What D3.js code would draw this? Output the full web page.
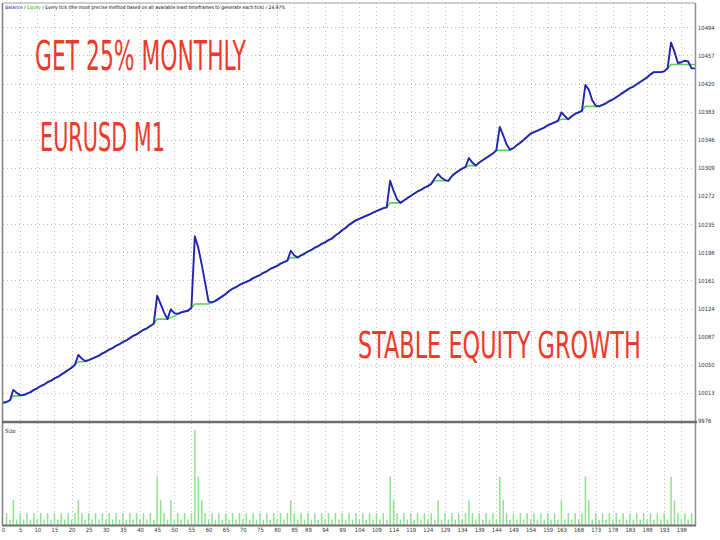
<!DOCTYPE html>
<html><head><meta charset="utf-8">
<script src="https://cdn.jsdelivr.net/npm/d3@7"></script>
<style>
html,body{margin:0;padding:0;background:#fff;}
svg{display:block;}
</style></head>
<body>
<svg id="c" width="720" height="540"></svg>
<script>
// ---- data ----
const balance = [
10000,10001,10003,10009,10009,10009,10010,10012,10014,10017,
10019,10022,10024,10027,10029,10032,10034,10037,10040,10043,
10046,10050,10054,10054,10054,10056,10058,10060,10062,10065,
10067,10070,10072,10075,10077,10080,10082,10085,10088,10090,
10093,10096,10098,10101,10104,10110,10110,10110,10110,10112,
10114,10117,10119,10120,10121,10125,10130,10130,10130,10130,
10130,10132,10134,10137,10140,10143,10147,10150,10152,10155,
10157,10159,10161,10164,10166,10168,10171,10173,10176,10178,
10180,10183,10185,10187,10191,10191,10191,10194,10196,10199,
10201,10204,10206,10209,10211,10214,10216,10220,10223,10227,
10230,10234,10237,10240,10242,10244,10246,10248,10250,10252,
10254,10256,10257,10263,10263,10263,10263,10266,10269,10272,
10275,10278,10280,10283,10285,10288,10292,10292,10292,10292,
10292,10298,10302,10305,10308,10310,10312,10312,10312,10316,
10319,10322,10325,10328,10332,10332,10332,10332,10332,10335,
10339,10342,10346,10350,10354,10356,10358,10360,10362,10365,
10367,10369,10371,10373,10373,10373,10377,10380,10382,10384,
10390,10390,10390,10390,10390,10392,10394,10397,10399,10402,
10405,10408,10411,10414,10416,10419,10422,10425,10428,10432,
10435,10435,10435,10436,10440,10445,10445,10445,10445,10445,
10445,10445,10445
];
// equity values where positions were open (index, equity)
const equityOpen = [
[3,10017],[4,10013],[5,10010],
[22,10063],[23,10058],[24,10055],
[45,10141],[46,10130],[47,10119],
[49,10123],[50,10118],
[56,10219],[57,10204],[58,10182],[59,10158],[60,10133],
[84,10200],[85,10194],
[113,10292],[114,10279],[115,10268],
[126,10295],[127,10301],[128,10296],[129,10293],
[136,10322],[137,10316],
[145,10363],[146,10352],[147,10340],[148,10333],
[163,10382],[164,10377],
[170,10418],[171,10412],[172,10398],[173,10391],
[195,10474],[196,10462],[197,10447],[198,10448],[199,10450],[200,10449],[201,10440],[202,10440]
];
const sizes = [
0,2.2,1,4.6,1,2.2,1,2.2,1,2.2,
1,2.2,1,2.2,1,2.2,1,2.2,1,2.2,
1,2.2,4.6,2.2,1,2.2,1,2.2,1,2.2,
1,2.2,1,2.2,1,2.2,1,2.2,1,2.2,
1,2.2,1,2.2,1,9,4.6,2.2,1,4.6,
1,2.2,1,2.2,1,2.2,17.7,9,4.6,2.2,
1,2.2,1,2.2,1,2.2,1,2.2,1,2.2,
1,2.2,1,2.2,1,2.2,1,2.2,1,2.2,
1,2.2,1,2.2,4.6,2.2,1,2.2,1,2.2,
1,2.2,1,2.2,1,2.2,1,2.2,1,2.2,
1,2.2,1,2.2,1,2.2,1,2.2,1,2.2,
1,2.2,1,9,4.6,2.2,1,2.2,1,2.2,
1,2.2,1,2.2,1,2.2,1,4.6,1,2.2,
1,2.2,1,2.2,1,2.2,4.6,2.2,1,2.2,
1,2.2,1,2.2,1,9,4.6,2.2,1,2.2,
1,2.2,1,2.2,1,2.2,1,2.2,1,2.2,
1,2.2,1,4.6,1,2.2,1,2.2,1,2.2,
9,4.6,1,2.2,1,2.2,1,2.2,1,2.2,
1,2.2,1,2.2,1,2.2,1,2.2,1,2.2,
1,2.2,1,2.2,1,9,4.6,2.2,1,2.2,
1,2.2,0
];
const yTicks = [9976,10013,10050,10087,10124,10161,10198,10235,10272,10309,10346,10383,10420,10457,10494];
const xTicks = [0,5,10,15,20,25,30,35,40,45,50,55,60,65,70,75,80,85,89,94,99,104,109,114,119,124,129,134,139,144,149,154,159,163,168,173,178,183,188,193,198];
const headerParts = [["Balance","#1010c8"],[" / ","#000"],["Equity","#10b010"],[" / Every tick (the most precise method based on all available least timeframes to generate each tick) / 24.97%","#000"]];
// text, left x, baseline y, target width, cap height
const bigTexts = [["GET 25% MONTHLY",35,70,211,30],["EURUSD M1",40,151,125,29],["STABLE EQUITY GROWTH",358,358,283,27]];

// ---- build ----
const eqMap = new Map(equityOpen);
const equity = balance.map((b,i)=> eqMap.has(i) ? eqMap.get(i) : b);

const svg = d3.select("#c");
const L=3, R=695, T=3, SEP=422, B=525;
const x = d3.scaleLinear().domain([0,202]).range([L,R]);
const y = d3.scaleLinear().domain([9976,10522]).range([421,6]);
const ys = d3.scaleLinear().domain([0,19]).range([B,SEP+1]);

const grid = svg.append("g").attr("stroke","#bdbdbd").attr("stroke-width",1).attr("stroke-dasharray","1,3");
grid.selectAll("line.h").data(yTicks.slice(1)).join("line")
  .attr("x1",L).attr("x2",R).attr("y1",d=>Math.round(y(d))+0.5).attr("y2",d=>Math.round(y(d))+0.5);
grid.selectAll("line.v").data(xTicks.slice(1)).join("line")
  .attr("y1",T).attr("y2",B).attr("x1",d=>Math.round(x(d))+0.5).attr("x2",d=>Math.round(x(d))+0.5);

// size bars
svg.append("g").selectAll("rect").data(sizes.map((v,i)=>[i,v]).filter(d=>d[1]>0)).join("rect")
  .attr("x",d=>x(d[0])-0.7).attr("width",1.5)
  .attr("y",d=>ys(d[1])).attr("height",d=>B-ys(d[1]))
  .attr("fill","#8fe38f");

// lines
const line = d3.line().x((d,i)=>x(i)).y(d=>y(d));
svg.append("path").attr("d",line(balance)).attr("fill","none").attr("stroke","#55d455").attr("stroke-width",1.6);
svg.append("path").attr("d",line(equity)).attr("fill","none").attr("stroke","#2323b4").attr("stroke-width",1.9).attr("stroke-linejoin","round");

// frame
svg.append("line").attr("x1",L).attr("x2",R).attr("y1",T).attr("y2",T).attr("stroke","#a0a0a0").attr("stroke-width",1);
svg.append("line").attr("x1",L-0.5).attr("x2",L-0.5).attr("y1",T).attr("y2",B).attr("stroke","#808080").attr("stroke-width",1.5);
svg.append("line").attr("x1",R+0.5).attr("x2",R+0.5).attr("y1",T).attr("y2",B+1).attr("stroke","#909090").attr("stroke-width",1.5);
svg.append("line").attr("x1",L-1).attr("x2",R+2).attr("y1",SEP).attr("y2",SEP).attr("stroke","#6e6e6e").attr("stroke-width",2.5);
svg.append("line").attr("x1",L-1).attr("x2",R+1).attr("y1",B+0.5).attr("y2",B+0.5).attr("stroke","#707070").attr("stroke-width",2);

// axes
const fnt = "'Liberation Sans Narrow','DejaVu Sans Condensed',sans-serif";
const ya = svg.append("g").attr("transform",`translate(${R+2},0)`).call(d3.axisRight(y).tickValues(yTicks).tickSize(0).tickPadding(1).tickFormat(d3.format("d")));
ya.select(".domain").remove();
ya.selectAll("text").attr("font-family",fnt).attr("font-size","5.8px").attr("fill","#333");
const xa = svg.append("g").attr("transform",`translate(0,${B+2})`).call(d3.axisBottom(x).tickValues(xTicks).tickSize(0).tickPadding(1).tickFormat(d3.format("d")));
xa.select(".domain").remove();
xa.selectAll("text").attr("font-family",fnt).attr("font-size","5.8px").attr("fill","#333");

// header: pick a font size whose natural width fits the target width
const ht = svg.append("text").attr("x",5).attr("y",9).attr("font-family",fnt).attr("font-size","10px");
headerParts.forEach(p=>ht.append("tspan").text(p[0]).attr("fill",p[1]));
const hw = ht.node().getComputedTextLength();
ht.attr("font-size",(10*282/hw).toFixed(2)+"px");
svg.append("text").attr("x",5).attr("y",433).attr("font-family",fnt).attr("font-size","5.8px").attr("fill","#333").text("Size");

// big red captions: natural width fitted, then stretched vertically to the cap height
svg.append("g").selectAll("text").data(bigTexts).join("text")
  .attr("font-family",fnt).attr("fill","#ef3a2b").attr("font-size","40px").text(d=>d[0])
  .each(function(d){
    const w = this.getComputedTextLength();
    const fs = 40*d[3]/w;
    const sy = d[4]/(0.729*fs);
    d3.select(this).attr("font-size",fs.toFixed(2)+"px")
      .attr("transform",`translate(${d[1]},${d[2]}) scale(1,${sy.toFixed(3)})`);
  });
</script>
</body></html>
